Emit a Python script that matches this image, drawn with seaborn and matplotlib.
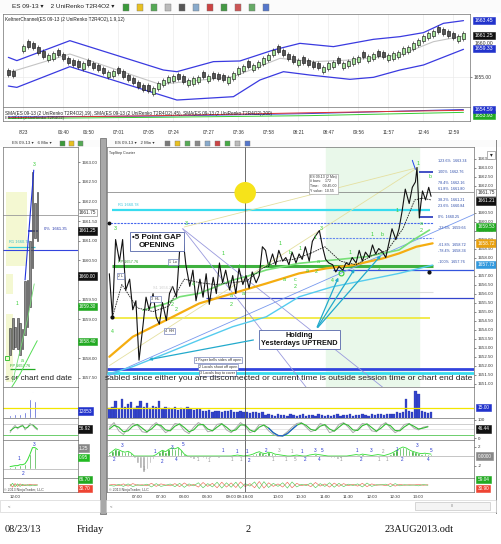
import numpy as np
import matplotlib
matplotlib.use("Agg")
import matplotlib.pyplot as plt
import matplotlib.transforms as mtransforms
from matplotlib.patches import Rectangle
import seaborn as sns

sns.set_theme(style="white")
plt.rcParams["font.family"] = ["Liberation Sans", "DejaVu Sans"]
plt.rcParams["axes.linewidth"] = 0.5

# ---------------- top chart: ES 09-13 2 UniRenko bars ----------------
top_pos = [0, 1] + list(range(3, 92))
top_close = [
    1655.34, 1655.19, 1659.68, 1659.58, 1659.33, 1658.68, 1658.08, 1658.33, 1658.58, 1658.33,
    1657.68, 1657.09, 1656.84, 1656.59, 1657.09, 1656.84, 1656.34, 1656.09, 1655.59, 1655.84,
    1655.99, 1655.59, 1655.09, 1654.60, 1654.10, 1653.50, 1653.10, 1653.00, 1653.35, 1654.10,
    1654.60, 1655.09, 1655.19, 1654.70, 1654.35, 1654.60, 1654.85, 1655.09, 1655.00, 1655.19,
    1654.85, 1654.70, 1654.60, 1655.00, 1655.59, 1656.34, 1656.69, 1656.59, 1656.84, 1657.34,
    1657.84, 1658.33, 1659.08, 1658.83, 1658.33, 1657.68, 1657.34, 1657.58, 1657.19, 1656.84,
    1656.49, 1656.34, 1656.59, 1657.09, 1657.34, 1657.09, 1657.19, 1657.49, 1657.84, 1658.08,
    1657.98, 1658.18, 1658.48, 1658.18, 1657.98, 1658.33, 1658.58, 1658.83, 1659.33, 1659.58,
    1660.07, 1660.57, 1661.17, 1661.67, 1661.97, 1661.77, 1661.47, 1661.17, 1660.82, 1661.17,
    1661.57,
]
kc_up_pos = [0, 1.7, 12.3, 31, 33.7, 41, 46.3, 53, 58.3, 65, 73, 78.3, 83, 87, 91]
kc_up = [1657.98, 1657.49, 1660.47, 1656.09, 1655.84, 1657.34, 1657.44, 1659.08, 1660.07,
         1659.58, 1660.67, 1661.07, 1661.67, 1663.06, 1663.46]
kc_lo_pos = [0, 1.7, 12.3, 33.7, 45, 50.3, 55, 60.3, 68.3, 73, 78.3, 83, 91]
kc_lo = [1653.70, 1653.50, 1656.59, 1651.61, 1652.11, 1654.60, 1655.84, 1655.34, 1654.70,
         1655.00, 1656.09, 1656.84, 1659.18]
kc_mid_pos = [0, 12.3, 30.3, 45, 54.3, 61, 68.3, 78.3, 85, 91]
kc_mid = [1655.69, 1658.48, 1653.95, 1655.09, 1657.83, 1657.34, 1657.58, 1658.33, 1660.32, 1661.17]
sma_pos = [0, 30, 60, 91]
sma19 = [1652.8, 1653.0, 1653.6, 1654.6]
sma45 = [1652.6, 1653.1, 1653.8, 1654.4]
sma200 = [1652.4, 1652.7, 1653.1, 1653.9]
top_xlabel_pos = [3, 11, 16, 22, 28, 33, 40, 46, 52, 58, 64, 70, 76, 83, 89]
top_xlabels = ["8/23", "06:40", "06:50", "07:01", "07:05", "07:24", "07:27", "07:36",
               "07:58", "08:21", "08:47", "09:56", "11:57", "12:46", "12:59"]

# ---------------- bottom right: 2 Min chart (minutes after midnight) ----------------
rt_min = [384, 388, 392, 397, 401, 405, 410, 414, 418, 422, 427, 431, 435, 440, 444, 448, 452,
          457, 461, 465, 470, 474, 478, 482, 487, 491, 495, 500, 504, 508, 512, 517, 521, 525,
          529, 533, 538, 542, 546, 550, 555, 559, 563, 567, 572, 576, 580, 584, 588, 593, 597,
          601, 606, 610, 614, 618, 623, 627, 631, 635, 640, 644, 648, 653, 657, 661, 665, 670,
          674, 678, 683, 687, 691, 695, 700, 704, 708, 712, 717, 721, 725, 729, 734, 738, 742,
          746, 751, 755, 759, 763, 768, 772, 776, 778, 781, 783, 785, 789, 793, 796]
rt_px = [1657.1, 1654.7, 1659.0, 1657.8, 1659.0, 1656.2, 1656.8, 1655.1, 1655.6, 1652.3,
         1654.2, 1655.8, 1655.1, 1656.0, 1654.7, 1654.3, 1655.5, 1654.5, 1656.0, 1656.4,
         1655.8, 1658.4, 1659.2, 1657.6, 1656.4, 1657.3, 1655.6, 1656.8, 1655.8, 1657.1,
         1655.4, 1656.9, 1656.0, 1657.7, 1656.6, 1657.3, 1656.2, 1657.0, 1656.0, 1657.4,
         1656.5, 1657.0, 1656.3, 1657.2, 1656.6, 1657.0, 1658.6, 1658.4, 1657.5, 1658.2,
         1657.6, 1658.4, 1657.8, 1658.0, 1657.6, 1658.3, 1657.7, 1658.2, 1657.9, 1658.6,
         1657.8, 1658.9, 1659.2, 1659.5, 1658.6, 1657.9, 1657.7, 1657.6, 1657.2, 1657.5,
         1657.3, 1657.7, 1657.6, 1658.0, 1657.7, 1658.4, 1657.8, 1658.3, 1658.0, 1658.7,
         1658.2, 1658.5, 1658.3, 1658.0, 1658.8, 1659.6, 1659.0, 1659.6, 1660.6, 1661.8,
         1661.0, 1661.9, 1662.2, 1663.0, 1660.2, 1661.0, 1661.7, 1661.2, 1661.9, 1661.4]
ma_fast_min = [388, 400, 420, 440, 460, 480, 500, 520, 540, 560, 580, 600, 620, 640, 660, 680,
               700, 720, 740, 760, 775, 785, 796]
ma_fast = [1654.7, 1656.5, 1655.2, 1655.0, 1655.3, 1656.8, 1656.6, 1656.5, 1656.6, 1656.7,
           1657.4, 1657.8, 1657.9, 1658.2, 1658.6, 1657.8, 1657.6, 1658.1, 1658.4, 1659.6,
           1661.2, 1661.3, 1661.2]
ma_green_min = [427, 457, 474, 499, 542, 559, 585, 627, 670, 713, 734, 755, 773, 794]
ma_green = [1655.08, 1655.45, 1655.82, 1656.01, 1656.75, 1656.94, 1657.31, 1657.68, 1657.86,
            1658.05, 1658.23, 1658.42, 1658.97, 1659.53]
ma_orange_min = [384, 414, 457, 499, 542, 585, 627, 662, 696, 734, 755, 777, 798]
ma_orange = [1652.49, 1653.60, 1654.53, 1655.45, 1656.01, 1656.56, 1657.12, 1657.40, 1657.58,
             1657.95, 1658.23, 1658.60, 1658.79]
ma_cyan_min = [371, 414, 457, 499, 542, 585, 627, 670, 713, 755, 798]
ma_cyan = [1651.38, 1651.94, 1652.68, 1653.42, 1654.16, 1654.71, 1655.82, 1656.38, 1656.75,
           1657.12, 1657.58]
lvl_price = [1660.64, 1659.90, 1659.10, 1657.53, 1657.30, 1656.10, 1655.73, 1654.66, 1651.80, 1651.56]
lvl_start = [388, 381, 653, 388, 670, 384, 508, 388, 381, 381]
lvl_end = [795, 798, 798, 798, 851, 798, 851, 795, 851, 851]
fan_x0 = [371, 478, 478, 384, 480]
fan_p0 = [1651.2, 1659.6, 1659.6, 1652.0, 1659.7]
fan_x1 = [851, 636, 734, 779, 779]
fan_p1 = [1660.4, 1650.8, 1650.8, 1663.0, 1663.0]
fib_names = ["123.6%", "100%", "78.4%", "61.8%", "38.2%", "23.6%", "0%", "-23.6%", "-61.8%",
             "-78.4%", "-100%"]
fib_prices = [1663.34, 1662.76, 1662.16, 1661.80, 1661.21, 1660.84, 1660.25, 1659.66, 1658.72,
              1658.34, 1657.76]
wave_min = [392, 388, 482, 463, 469, 491, 530, 551, 540, 555, 589, 602, 608, 622, 622, 616, 628,
            637, 649, 648, 656, 652, 670, 692, 720, 734, 729, 753, 779, 795, 783, 783, 464, 540]
wave_px = [1659.6, 1653.9, 1659.9, 1657.5, 1655.1, 1656.5, 1658.2, 1657.5, 1655.4, 1656.0,
           1657.6, 1658.8, 1656.8, 1656.8, 1656.4, 1658.3, 1658.5, 1657.3, 1657.2, 1659.1,
           1659.6, 1657.8, 1656.7, 1658.3, 1659.3, 1659.3, 1657.4, 1660.6, 1663.2, 1662.5,
           1659.9, 1659.5, 1655.4, 1655.9]
wave_txt = ["3", "4", "3", "1", "2", "4", "1", "b", "2", "a", "b", "1", "a", "c", "2", "b", "1",
            "a", "2", "1", "3", "a", "4", "1", "1", "b", "2", "1", "1", "b", "a", "2", "2", "a"]
# volume every 4 minutes from 06:24 (thousands)
vol = [16, 18, 27, 15, 30, 17, 23, 26, 16, 20, 28, 18, 24, 16, 19, 17, 27, 15, 18, 16,
       14, 17, 13, 16, 15, 18, 14, 13, 15, 14, 11, 12, 13, 10, 12, 11, 10, 12, 11, 13,
       9, 10, 11, 9, 10, 8, 9, 10, 8, 9,
       5, 6, 5, 4, 6, 5, 5, 4, 6, 5, 4, 5, 6, 4, 5, 5, 4, 6, 5, 4,
       5, 4, 5, 6, 4, 5, 5, 6, 4, 5, 5, 6, 5, 4, 6, 5, 7, 6, 5, 6,
       7, 6, 9, 8, 10, 30, 11, 9, 43, 38, 11, 10, 8, 9]
hist = [0.5, 1.0, 1.5, 1.3, 1.0, 0.8, 1.0, 0.6,
        -0.5, -1.5, -2.5, -3.3, -2.8, -1.5, -0.6,
        0.3, 0.8, 1.2, 0.9, 1.4, 1.7, 1.5, 1.8, 1.2, 0.4,
        -0.2, -0.4, -0.6, -0.5, -0.3, -0.5, -0.7, -0.4, -0.2, -0.3, -0.5, -0.3, -0.2, -0.1, -0.2,
        0.1, 0.2, 0.1, -0.1, 0.1, 0.2,
        0.4, 0.7, 0.9, 0.6, 0.5, 0.8, 0.7, 0.4, 0.3, 0.2,
        0.1, 0.0, -0.1, 0.1, 0.2, 0.1, -0.1, 0.0, 0.2, 0.3, 0.4, 0.3, 0.2, 0.1,
        -0.2, -0.4, -0.5, -0.6, -0.4, -0.3, -0.1,
        0.1, 0.2, 0.3, 0.2, 0.4, 0.3, 0.2, 0.1, 0.2, 0.3, 0.2, 0.1, 0.3, 0.5,
        0.8, 1.2, 1.6, 1.9, 1.7, 1.3, 1.0, 0.8, 0.6,
        0.5, 0.6, 0.5, 0.4]
swing_min = [400, 390, 428, 443, 451, 464, 469, 478, 498, 511, 530, 541, 548, 552, 560, 563,
             585, 593, 602, 610, 618, 622, 631, 635, 647, 653, 657, 681, 701, 707, 719, 729,
             734, 740, 752, 759, 778, 792, 796]
swing_val = [2.2, -0.8, -2.6, 0.9, -1.2, 1.75, -0.8, 2.45, -0.8, -1.0, 1.26, -0.8, 0.9, -0.8,
             0.9, -1.0, 1.26, -0.8, 1.26, -0.8, 1.05, -0.8, 1.05, -0.8, 1.26, -0.8, 1.26, -0.8,
             1.26, -0.8, 1.26, -0.8, 1.05, -0.8, 1.4, -0.8, 2.3, -0.8, 1.26]
swing_txt = ["3", "2", "1", "1", "2", "3", "4", "5", "1", "1", "1", "1", "1", "1", "1", "2",
             "2", "1", "3", "1", "1", "5", "1", "2", "3", "4", "5", "1", "1", "2", "3", "1",
             "2", "1", "1", "2", "3", "4", "5"]
swing_grey = [0, 0, 1, 0, 0, 0, 0, 0, 1, 1, 0, 1, 0, 1, 0, 0, 0, 1, 1, 1, 1, 1, 0, 0, 0, 0,
              0, 1, 0, 0, 0, 1, 1, 1, 0, 0, 0, 0, 0]
# oscillators every 6 minutes from 06:24
osc_grey = [60, 85, 40, 20, 55, 80, 70, 35, 30, 65, 85, 60, 30, 45, 80, 75, 40, 25, 60, 85,
            70, 35, 40, 75, 80, 45, 30, 55, 85, 65, 30, 40, 75, 70, 40, 20, 10, 15, 35, 60,
            80, 85, 60, 35, 45, 80, 70, 30, 40, 75, 85, 60, 30, 50, 80, 75, 40, 35, 70, 85,
            55, 30, 45, 75, 80, 55, 45, 60, 65]
osc_green = [50, 70, 60, 35, 40, 65, 75, 55, 35, 50, 75, 70, 45, 40, 65, 78, 58, 35, 45, 72,
             75, 50, 40, 60, 78, 60, 38, 45, 72, 72, 45, 35, 60, 72, 55, 30, 15, 12, 25, 48,
             70, 82, 70, 48, 42, 65, 74, 50, 38, 60, 80, 70, 45, 42, 68, 78, 58, 38, 55, 78,
             68, 42, 40, 62, 78, 65, 50, 55, 62]
dm_red = [50, 55, 45, 58, 42, 60, 48, 52, 45, 62, 40, 58, 50, 44, 60, 38, 65, 42, 55, 35,
          68, 40, 62, 30, 70, 35, 65, 32, 72, 38, 60, 30, 75, 28, 66, 40, 58, 35, 70, 30,
          62, 45, 55, 38, 68, 42, 58, 35, 64, 40, 60, 45, 55, 42, 62, 38, 58, 48, 52, 45,
          60, 42, 55, 48, 52, 50, 55, 48, 52]
dm_green = [48, 42, 55, 40, 58, 38, 52, 46, 56, 36, 60, 40, 48, 57, 38, 62, 33, 58, 44, 66,
            30, 60, 36, 70, 28, 66, 34, 70, 26, 60, 42, 72, 24, 74, 32, 62, 40, 66, 28, 72,
            36, 55, 46, 64, 30, 60, 40, 66, 34, 62, 38, 56, 46, 58, 36, 64, 40, 52, 50, 56,
            38, 60, 44, 52, 48, 50, 44, 53, 48]
rt_ticks = [420, 450, 480, 510, 540, 600, 630, 660, 690, 720, 750, 780]
rt_ticklabels = ["07:00", "07:30", "08:00", "08:30", "09:00", "10:00", "10:30",
                 "11:00", "11:30", "12:00", "12:30", "13:00"]

# ---------------- bottom left: 6 Min chart ----------------
lc_lo = [1658.09, 1658.25, 1658.30, 1658.25, 1658.09, 1658.25, 1658.60, 1658.80, 1659.30,
         1660.30, 1661.08, 1661.00]
lc_hi = [1658.77, 1659.02, 1658.80, 1659.02, 1658.90, 1658.75, 1659.97, 1660.00, 1661.00,
         1662.75, 1661.95, 1662.24]
l_vol = [5, 4, 6, 5, 7, 6, 9, 8, 30, 42, 28, 10]
l_osc_grey = [30, 55, 70, 50, 65, 75, 45, 60, 80, 70, 55, 45]
l_osc_green = [40, 50, 60, 58, 62, 68, 55, 58, 72, 75, 62, 50]
l_hist = [0.2, 0.25, 0.3, 0.3, 0.4, 0.4, 0.5, 0.9, 1.5, 2.2, 2.2, 2.0]
l_red = [55, 35, 60, 40, 58, 45, 52, 48, 55, 50, 52, 50]
l_green = [42, 62, 38, 58, 40, 55, 46, 52, 44, 50, 47, 50]

# ---------------- figure ----------------
W, H = 501, 544
fig = plt.figure(figsize=(W / 100, H / 100), dpi=100)
fig.patch.set_facecolor("white")


def px_axes(x0, y0, x1, y1):
    ax = fig.add_axes([x0 / W, 1 - y1 / H, (x1 - x0) / W, (y1 - y0) / H])
    ax.set_facecolor("white")
    for s in ax.spines.values():
        s.set_color("#707070")
        s.set_linewidth(0.5)
    ax.tick_params(labelsize=3.2, length=1.5, width=0.4, pad=1, colors="#333333")
    return ax


def ftext(x, y, s, **kw):
    fig.text(x / W, 1 - y / H, s, **kw)


def frect(x0, y0, x1, y1, **kw):
    fig.add_artist(Rectangle((x0 / W, 1 - y1 / H), (x1 - x0) / W, (y1 - y0) / H,
                             transform=fig.transFigure, **kw))


def tag(ax, y, s, fc, tc="white", ec=None, size=3.4):
    tr = mtransforms.blended_transform_factory(ax.transAxes, ax.transData)
    ax.text(1.01, y, s, transform=tr, fontsize=size, color=tc, va="center", ha="left",
            bbox=dict(boxstyle="square,pad=0.25", fc=fc, ec=ec or fc, lw=0.4),
            clip_on=False, zorder=10)


def price_ticks(ax, ticks, tags, gap):
    keep = [t for t in ticks if min(abs(t - g) for g in tags) > gap]
    ax.set_yticks(keep)
    ax.set_yticklabels([f"{v:.2f}" for v in keep])


def line(ax, x, y, color, lw, ls="-", z=2, alpha=1.0):
    sns.lineplot(x=x, y=y, ax=ax, color=color, linewidth=lw, linestyle=ls, estimator=None,
                 sort=False, legend=False, zorder=z, alpha=alpha)


def hide(ax):
    ax.set_xticks([])
    ax.set_yticks([])
    ax.set_xlabel("")
    ax.set_ylabel("")


# toolbars
frect(0, 0, 501, 13, fc="#fbfbfb", ec="none")
ftext(12, 7, "ES 09-13 \u25be    2 UniRenko T2R4O2 \u25be", fontsize=4.6, va="center", color="#222")
icon_cols = ["#3a9a3a", "#e8c020", "#55aa55", "#bbbbbb", "#555555", "#88aacc", "#cc4444",
             "#449944", "#cc5555", "#66aa66", "#5577cc"]
for k, c in enumerate(icon_cols):
    frect(123 + k * 14, 4, 129 + k * 14, 11, fc=c, ec="#777", lw=0.3)
frect(0, 140, 501, 147, fc="#fbfbfb", ec="none")
ftext(12, 143.5, "ES 09-13 \u25be   6 Min \u25be", fontsize=3.2, va="center", color="#333")
ftext(115, 143.5, "ES 09-13 \u25be   2 Min \u25be", fontsize=3.2, va="center", color="#333")
for k, c in enumerate(["#3a9a3a", "#e8c020", "#55aa55"]):
    frect(60 + k * 9, 141, 65 + k * 9, 146, fc=c, ec="#777", lw=0.3)
for k, c in enumerate(["#777777", "#e8c020", "#55aa55", "#888888", "#88aacc", "#cc4444",
                       "#44aa44", "#bbbbbb", "#5577cc"]):
    frect(165 + k * 10, 141, 170 + k * 10, 146, fc=c, ec="#777", lw=0.3)

# ---- top chart ----
ax_top = px_axes(3, 14, 470, 107)
ax_sma = px_axes(3, 107, 470, 121)
for xp in top_xlabel_pos:
    ax_top.axvline(xp, color="#ebebeb", lw=0.5, zorder=0)
    ax_sma.axvline(xp, color="#ebebeb", lw=0.5, zorder=0)
ax_top.axhline(1655.0, color="#ebebeb", lw=0.5, zorder=0)
line(ax_top, kc_up_pos, kc_up, "#3a3ae0", 0.9)
line(ax_top, kc_lo_pos, kc_lo, "#3a3ae0", 0.9)
line(ax_top, kc_mid_pos, kc_mid, "#c4c4c4", 0.8)
close = np.array(top_close)
prev = np.r_[close[0] + 0.5, close[:-1]]
up = close > prev
openp = np.where(up, close - 0.8, close + 0.8)
ax_top.vlines(top_pos, np.minimum(close, openp) - 0.3, np.maximum(close, openp) + 0.3,
              color="#1a1a1a", lw=0.4, zorder=2)
ax_top.bar(top_pos, np.abs(close - openp), bottom=np.minimum(close, openp), width=0.68,
           color=np.where(up, "#a6e39a", "#555555"), edgecolor="#1a1a1a", linewidth=0.45, zorder=3)
ax_top.set_xlim(-1.07, 92.3)
ax_top.set_ylim(1650.57, 1664.45)
hide(ax_top)
ax_top.yaxis.tick_right()
ax_top.set_yticks([1655.0])
ax_top.set_yticklabels(["1655.00"])
ax_top.tick_params(axis="y", labelsize=3.5)
ax_top.text(0.005, 0.97, "KeltnerChannel(ES 09-13 (2 UniRenko T2R4O2),1.9,12)",
            transform=ax_top.transAxes, fontsize=3.4, va="top", color="#222")
tag(ax_top, 1663.45, "1663.45", "#2233cc", size=3.7)
tag(ax_top, 1660.05, "1660.00", "white", "#333", "white", size=3.7)
tag(ax_top, 1661.25, "1661.25", "#111111", size=3.7)
tag(ax_top, 1659.33, "1659.33", "#2233cc", size=3.7)

line(ax_sma, sma_pos, sma19, "#3344dd", 0.7)
line(ax_sma, sma_pos, sma45, "#dd3333", 0.7)
line(ax_sma, sma_pos, sma200, "#33cc33", 0.7)
ax_sma.set_xlim(-1.07, 92.3)
ax_sma.set_ylim(1651.8, 1655.2)
hide(ax_sma)
ax_sma.set_xticks(top_xlabel_pos)
ax_sma.set_xticklabels(top_xlabels)
ax_sma.tick_params(axis="x", labelsize=3.4, length=1.5, pad=5)
ax_sma.text(0.005, 0.55, "SMA(ES 09-13 (2 UniRenko T2R4O2),19), SMA(ES 09-13 (2 UniRenko T2R4O2),45), "
            "SMA(ES 09-13 (2 UniRenko T2R4O2),200)", transform=ax_sma.transAxes, fontsize=3.3,
            va="center", color="#222")
ax_sma.text(0.005, 0.2, "ES 09-13 (2 UniRenko T2R4O2)", transform=ax_sma.transAxes,
            fontsize=3.0, va="center", color="#333")
tag(ax_sma, 1653.2, "1653.93", "#22aa22", size=3.7)
tag(ax_sma, 1654.59, "1654.59", "#2233cc", size=3.7)

# ---- left 6-min chart ----
axL = px_axes(3, 147, 78, 387)
for (a, b, p0, p1) in [(-1.6, 6.6, 1660.35, 1662.24), (-1.6, 1.3, 1659.63, 1660.15),
                       (-1.6, 1.3, 1657.40, 1659.12)]:
    axL.add_patch(Rectangle((a, p0), b - a, p1 - p0, fc="#f4f8d2", ec="none", zorder=0))
axL.axhline(1661.66, color="#999999", lw=0.6)
axL.axhline(1660.76, color="#3344dd", lw=0.8)
axL.hlines(1661.25, 7, 11.4, color="#1122aa", lw=1.1)
axL.hlines(1660.84, -1, 10, color="#33ccdd", lw=0.9)
axL.hlines(1657.74, 0, 10, color="#22aa22", lw=0.9)
li = np.arange(len(lc_lo))
axL.bar(li, np.array(lc_hi) - np.array(lc_lo), bottom=lc_lo, width=0.75, color="#8c8c8c",
        edgecolor="#333333", linewidth=0.4, zorder=3)
line(axL, [6, 9.5], [1660.0, 1662.8], "#2233dd", 0.8, z=4)
line(axL, [0, 4, 8, 10.9], [1657.2, 1657.6, 1658.1, 1658.45], "#55dd55", 0.7, z=4)
line(axL, [1, 4, 7, 9.7], [1657.4, 1658.2, 1659.0, 1659.9], "#77dd77", 0.6, z=4)
axL.text(13.5, 1661.3, "0%  1661.35", fontsize=3.0, color="#2233aa", va="center")
axL.text(-0.5, 1660.95, "R1 1660.78", fontsize=2.8, color="#33bbcc")
axL.text(0, 1657.78, "PP 1657.76", fontsize=2.8, color="#22aa22")
axL.text(9.5, 1662.9, "3", fontsize=3.6, color="#33cc33", ha="center")
axL.text(2.7, 1659.37, "1", fontsize=3.6, color="#33cc33", ha="center")
axL.text(4.7, 1657.9, "a", fontsize=3.6, color="#33cc33", ha="center")
axL.plot([-1.1], [1658.0], marker="s", ms=2.5, mfc="none", mec="#22bb22", mew=0.6)
axL.set_xlim(-2.86, 27.3)
axL.set_ylim(1657.27, 1663.39)
hide(axL)
axL.yaxis.tick_right()
l_tags = [1661.72, 1661.25, 1660.1, 1659.33, 1658.43]
price_ticks(axL, [1657.5 + 0.5 * k for k in range(12)], l_tags, 0.14)
tag(axL, l_tags[0], "1661.75", "white", "#333", "#777")
tag(axL, l_tags[1], "1661.25", "#111111")
tag(axL, l_tags[2], "1660.00", "#111111")
tag(axL, l_tags[3], "1659.30", "#22aa22")
tag(axL, l_tags[4], "1658.40", "#22aa22")
axL.text(0.03, 0.02, "s or chart end date", transform=axL.transAxes,
         fontsize=5.8, ha="left", va="bottom", color="#222")

axLv = px_axes(3, 387, 78, 418)
axLv.bar(li, l_vol, width=0.6, color="#3344cc")
axLv.axhline(16.5, color="#f2e600", lw=0.9)
axLv.set_xlim(-2.86, 27.3)
axLv.set_ylim(0, 50)
hide(axLv)
tag(axLv, 11, "12853", "#2233cc")
axLo = px_axes(3, 418, 78, 440)
line(axLo, li, l_osc_grey, "#aaaaaa", 0.6)
line(axLo, li, l_osc_green, "#33bb33", 0.7)
axLo.axhline(80, color="#bbbbbb", lw=0.5)
axLo.axhline(20, color="#33bb33", lw=0.5)
axLo.set_xlim(-2.86, 27.3)
axLo.set_ylim(-10, 110)
hide(axLo)
tag(axLo, 50, "56.92", "#111111")
axLh = px_axes(3, 440, 78, 478)
axLh.bar(li, l_hist, width=0.5, color="#2aa82a")
line(axLh, li, l_hist, "#33dd33", 0.7)
axLh.axhline(0, color="#999999", lw=0.4)
axLh.text(9.3, 2.4, "3", fontsize=3.4, color="#2233cc")
axLh.text(3.0, 0.9, "1", fontsize=3.4, color="#2233cc")
axLh.text(4.7, -0.7, "2", fontsize=3.4, color="#2233cc")
axLh.set_xlim(-2.86, 27.3)
axLh.set_ylim(-1, 3)
hide(axLh)
tag(axLh, 2.15, "1.25", "#888888")
tag(axLh, 1.15, "0.95", "#22bb22")
axLd = px_axes(3, 478, 78, 492)
line(axLd, li, l_red, "#ee6655", 0.5)
line(axLd, li, l_green, "#55cc55", 0.5)
axLd.text(0.02, 0.1, "\u00a9 2013 NinjaTrader, LLC", transform=axLd.transAxes, fontsize=2.6, color="#444")
axLd.set_xlim(-2.86, 27.3)
axLd.set_ylim(0, 100)
hide(axLd)
axLd.set_xticks([2])
axLd.set_xticklabels(["12:00"])
tag(axLd, 90, "66.70", "#22aa22")
tag(axLd, 25, "30.70", "#ee4433")

# ---- right 2-min chart ----
axR = px_axes(107, 147, 474, 387)
axR.axvspan(661, 781, color="#e9f8ea", zorder=0)
lvl_color = ["#38dcef", "#4466ee", "#6688ee", "#3fb13f", "#3355dd", "#dddddd", "#3344cc",
             "#f0e830", "#3344dd", "#38dcef"]
lvl_lw = [1.6, 0.8, 0.8, 2.2, 0.9, 0.8, 0.9, 1.2, 2.0, 2.0]
lvl_ls = ["-", (0, (2, 1)), (0, (2, 1)), "-", "-", "-", "-", "-", "-", "-"]
for p, a, b, c, w, s in zip(lvl_price, lvl_start, lvl_end, lvl_color, lvl_lw, lvl_ls):
    axR.hlines(p, a, b, color=c, lw=w, linestyles=s, zorder=1)
fan_col = ["#7799ee", "#9999dd", "#9999dd", "#e5e0a0", "#e5e0a0"]
for x0, p0, x1, p1, c in zip(fan_x0, fan_p0, fan_x1, fan_p1, fan_col):
    line(axR, [x0, x1], [p0, p1], c, 0.6, z=1)
axR.hlines([fib_prices[1], fib_prices[6]], 781, 798, color="#2233bb", lw=1.2, zorder=2)
axR.axhline(1661.62, color="#777777", lw=0.5, zorder=2)
axR.axvline(558, color="#333333", lw=0.5, zorder=2)
line(axR, ma_cyan_min, ma_cyan, "#55ccee", 1.0, z=3)
line(axR, ma_orange_min, ma_orange, "#f5ad10", 1.6, z=3)
line(axR, ma_green_min, ma_green, "#77e077", 1.2, z=3)
line(axR, ma_fast_min, ma_fast, "#222222", 0.6, ls=(0, (2, 1)), z=4)
line(axR, rt_min, rt_px, "#111111", 0.8, z=5)
line(axR, [772, 776], [1663.4, 1662.9], "#2244ee", 0.7, z=5)
axR.plot([388, 794], [1654.7, 1657.2], ls="none", marker="o", ms=2, color="#111111", zorder=6)
axR.plot([384], [1659.9], ls="none", marker="o", ms=1.8, color="#111111", zorder=6)
axR.plot([681], [1657.15], ls="none", marker="o", ms=3.5, mfc="none", mec="#33cc33", mew=0.8, zorder=6)
axR.scatter([558], [1661.6], s=240, color="#f6e31a", zorder=7, edgecolors="none")
for m, p, t in zip(wave_min, wave_px, wave_txt):
    axR.text(m, p, t, fontsize=3.8, color="#33cc33", ha="center", va="center", zorder=8)
for n, p in zip(fib_names, fib_prices):
    axR.text(805, p, f"{n}  {p:.2f}", fontsize=2.7, color="#2a4aa8", va="center", zorder=8)
axR.text(395, 1660.85, "R1 1660.78", fontsize=2.8, color="#33c6dd", zorder=8)
axR.text(395, 1657.72, "PP 1657.76", fontsize=2.8, color="#2a9a2a", zorder=8)
axR.text(440, 1656.25, "S1 1656.20", fontsize=2.8, color="#cccccc", zorder=8)
for m, p, t in [(465, 1657.75, "1  Lo"), (398, 1657.0, "2 L"), (443, 1655.7, "3  HL"),
                (461, 1653.9, "4  HH")]:
    axR.text(m, p, t, fontsize=2.5, color="#333", ha="center", va="center", zorder=8,
             bbox=dict(boxstyle="square,pad=0.3", fc="white", ec="#5566aa", lw=0.4))
axR.text(444.6, 1658.88, "\u20225 Point GAP\nOPENING", fontsize=5.8, fontweight="bold",
         ha="center", va="center", color="#111", linespacing=1.1, zorder=9,
         bbox=dict(boxstyle="square,pad=0.3", fc="white", ec="#5566aa", lw=0.6))
axR.text(627.4, 1653.45, "Holding\nYesterdays UPTREND", fontsize=5.3, fontweight="bold",
         ha="center", va="center", color="#111", linespacing=1.1, zorder=9,
         bbox=dict(boxstyle="square,pad=0.3", fc="white", ec="#5566aa", lw=0.6))
for tx, ty in [(678.6, 1657.03), (700, 1657.49), (734, 1658.23)]:
    axR.annotate("", xy=(tx, ty), xytext=(648.7, 1654.0),
                 arrowprops=dict(arrowstyle="-|>", color="#22aacc", lw=0.9, mutation_scale=4), zorder=8)
axR.annotate("", xy=(431, 1652.3), xytext=(572, 1653.45),
             arrowprops=dict(arrowstyle="-|>", color="#22aacc", lw=0.9, mutation_scale=4), zorder=8)
for p, t in [(1652.29, "1 Paper bells sides off open"), (1651.93, "2 Locals shoot off open"),
             (1651.58, "3 Locals buy to cover")]:
    axR.text(522.8, p, t, fontsize=2.7, color="#333", ha="center", va="center", zorder=9,
             bbox=dict(boxstyle="square,pad=0.25", fc="white", ec="#5566aa", lw=0.4))
axR.text(641, 1662.6, "ES 09-13 (2 Min)\n# bars:    172\nTime:    09:45:00\nY value:  10.55",
         fontsize=2.5, color="#333", va="top", ha="left", linespacing=1.2, zorder=9,
         bbox=dict(boxstyle="square,pad=0.3", fc="white", ec="#999", lw=0.4))
axR.text(0.006, 0.985, "TopStep Courier", transform=axR.transAxes, fontsize=2.6, va="top", color="#333")
axR.set_xlim(381, 851)
axR.set_ylim(1650.81, 1664.14)
hide(axR)
axR.yaxis.tick_right()
r_tags = [1661.62, 1661.15, 1659.7, 1658.8, 1657.6]
price_ticks(axR, [1651.0 + 0.5 * k for k in range(26)], r_tags, 0.2)
tag(axR, r_tags[0], "1661.75", "white", "#333", "#777")
tag(axR, r_tags[1], "1661.21", "#111111")
tag(axR, r_tags[2], "1659.53", "#22aa22")
tag(axR, r_tags[3], "1658.72", "#e8a010")
tag(axR, r_tags[4], "1657.73", "#3399dd")
ftext(105, 379, "sabled since either you are disconnected or current time is outside session time or chart end date",
      fontsize=6.1, va="center", color="#222")
frect(487, 151, 495, 159, fc="white", ec="#777", lw=0.4)
ftext(491, 155, "\u25be", fontsize=4, ha="center", va="center", color="#222")

vol_min = [384 + 4 * k for k in range(len(vol))]
axRv = px_axes(107, 387, 474, 418)
axRv.bar(vol_min, vol, width=3.0, color="#3344cc", edgecolor="#2a35a0", linewidth=0.2)
axRv.axhline(16.5, color="#f2e600", lw=0.9)
axRv.axvline(558, color="#333333", lw=0.5)
axRv.set_xlim(381, 851)
axRv.set_ylim(0, 50)
hide(axRv)
tag(axRv, 16.5, "15.00", "#2233cc")

osc_min = [384 + 6 * k for k in range(len(osc_grey))]
axRo = px_axes(107, 418, 474, 440)
axRo.axhline(80, color="#bbbbbb", lw=0.5)
axRo.axhline(50, color="#dddddd", lw=0.5)
axRo.axhline(20, color="#33bb33", lw=0.5)
line(axRo, osc_min, osc_grey, "#aaaaaa", 0.7)
line(axRo, osc_min, osc_green, "#33bb33", 0.8)
line(axRo, osc_min[34:41], osc_green[34:41], "#2255dd", 0.8)
axRo.axvline(558, color="#333333", lw=0.5)
axRo.set_xlim(381, 851)
axRo.set_ylim(-10, 110)
hide(axRo)
axRo.yaxis.tick_right()
axRo.set_yticks([0, 100])
axRo.set_yticklabels(["0", "100"])
tag(axRo, 50, "46.44", "#111111")

hist_min = [384 + 4 * k for k in range(len(hist))]
axRh = px_axes(107, 440, 474, 478)
hv = np.array(hist)
axRh.bar(hist_min, hv, width=3.2, color=np.where(hv >= 0, "#2aa82a", "#aaaaaa"))
line(axRh, hist_min, np.clip(hv, 0, None), "#33dd33", 0.6)
axRh.axhline(0, color="#999999", lw=0.4)
for m, v, t, g in zip(swing_min, swing_val, swing_txt, swing_grey):
    axRh.text(m, v, t, fontsize=3.3, color="#999999" if g else "#2233cc", ha="center", va="center")
axRh.axvline(558, color="#333333", lw=0.5)
axRh.set_xlim(381, 851)
axRh.set_ylim(-4.63, 3.37)
hide(axRh)
axRh.yaxis.tick_right()
axRh.set_yticks([-2, 2])
axRh.set_yticklabels(["-2", "2"])
tag(axRh, 0, "0.0000", "#888888")

axRd = px_axes(107, 478, 474, 492)
line(axRd, osc_min, dm_red, "#ee6655", 0.45)
line(axRd, osc_min, dm_green, "#55cc55", 0.45)
axRd.axvline(558, color="#333333", lw=0.5)
axRd.text(0.006, 0.08, "\u00a9 2013 NinjaTrader, LLC", transform=axRd.transAxes, fontsize=2.6, color="#444")
axRd.set_xlim(381, 851)
axRd.set_ylim(0, 100)
hide(axRd)
axRd.set_xticks(rt_ticks)
axRd.set_xticklabels(rt_ticklabels)
axRd.text(558, -18, "09:18:00", fontsize=3.2, ha="center", va="top", color="#333",
          bbox=dict(boxstyle="square,pad=0.15", fc="white", ec="none"))
tag(axRd, 90, "59.04", "#22aa22")
tag(axRd, 25, "30.90", "#ee4433")

# separators, scrollbars
frect(100, 138, 106, 514, fc="#a8a8a8", ec="#666666", lw=0.5)
frect(496, 140, 497, 514, fc="#888888", ec="none")
frect(0, 500, 100, 512, fc="white", ec="#cccccc", lw=0.4)
frect(106, 500, 496, 512, fc="white", ec="#cccccc", lw=0.4)
frect(415, 502, 490, 510, fc="#f4f4f4", ec="#bbbbbb", lw=0.4)
ftext(8, 506, "<", fontsize=3, va="center", color="#555")
ftext(110, 506, "<", fontsize=3, va="center", color="#555")
ftext(452, 506, "III", fontsize=2.6, va="center", ha="center", color="#777")

# page footer
foot = dict(fontsize=7.5, family=["Liberation Serif", "DejaVu Serif"], va="center", color="#111")
ftext(5, 530, "08/23/13", **foot)
ftext(77, 530, "Friday", **foot)
ftext(246, 530, "2", **foot)
ftext(385, 530, "23AUG2013.odt", **foot)

fig.savefig("out.png", dpi=100)
